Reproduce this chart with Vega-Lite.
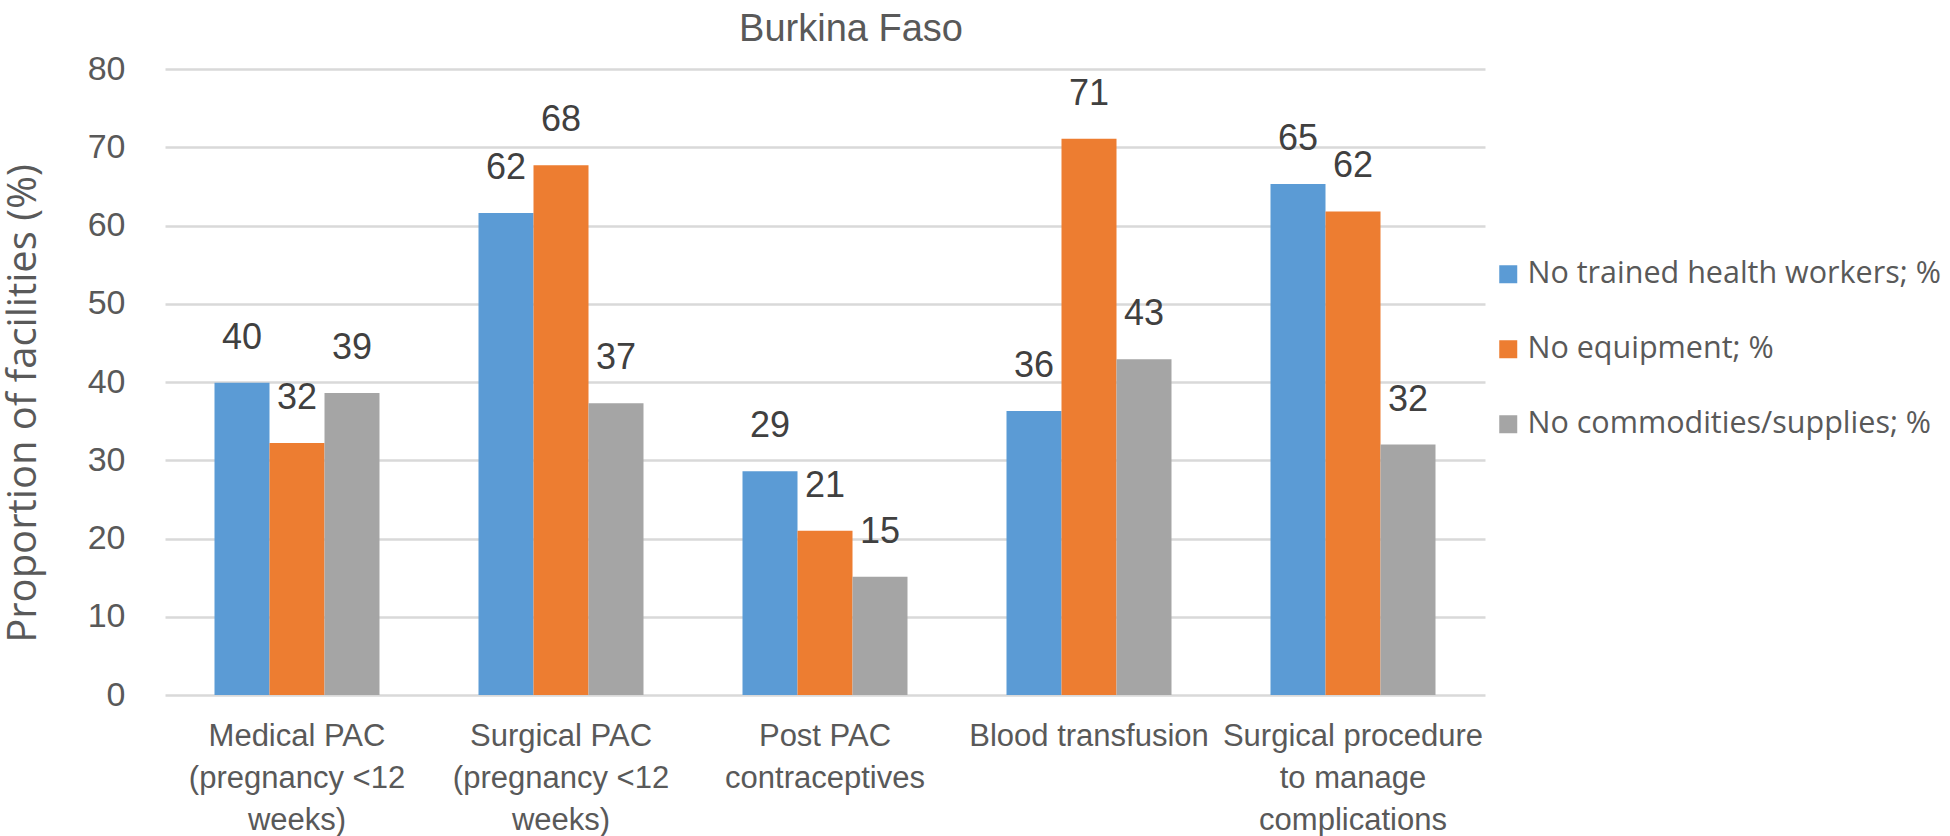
{
  "$schema": "https://vega.github.io/schema/vega-lite/v6.json",
  "autosize": {"type": "none"},
  "width": 1320,
  "height": 626,
  "padding": {"left": 165, "top": 69, "right": 465, "bottom": 141},
  "background": "white",
  "config": {"view": {"stroke": null}},
  "title": {"text": "Burkina Faso", "anchor": "middle", "dx": 26, "dy": 27, "fontSize": 38, "font": "Liberation Sans", "fontWeight": "normal", "color": "#595959", "baseline": "alphabetic", "offset": 0},
  "data": {"values": [
    {"service": "Medical PAC (pregnancy <12 weeks)", "barrier": "No trained health workers; %", "pct": 39.9},
    {"service": "Medical PAC (pregnancy <12 weeks)", "barrier": "No equipment; %", "pct": 32.2},
    {"service": "Medical PAC (pregnancy <12 weeks)", "barrier": "No commodities/supplies; %", "pct": 38.6},
    {"service": "Surgical PAC (pregnancy <12 weeks)", "barrier": "No trained health workers; %", "pct": 61.6},
    {"service": "Surgical PAC (pregnancy <12 weeks)", "barrier": "No equipment; %", "pct": 67.7},
    {"service": "Surgical PAC (pregnancy <12 weeks)", "barrier": "No commodities/supplies; %", "pct": 37.3},
    {"service": "Post PAC contraceptives", "barrier": "No trained health workers; %", "pct": 28.6},
    {"service": "Post PAC contraceptives", "barrier": "No equipment; %", "pct": 21.0},
    {"service": "Post PAC contraceptives", "barrier": "No commodities/supplies; %", "pct": 15.1},
    {"service": "Blood transfusion", "barrier": "No trained health workers; %", "pct": 36.3},
    {"service": "Blood transfusion", "barrier": "No equipment; %", "pct": 71.1},
    {"service": "Blood transfusion", "barrier": "No commodities/supplies; %", "pct": 42.9},
    {"service": "Surgical procedure to manage complications", "barrier": "No trained health workers; %", "pct": 65.3},
    {"service": "Surgical procedure to manage complications", "barrier": "No equipment; %", "pct": 61.8},
    {"service": "Surgical procedure to manage complications", "barrier": "No commodities/supplies; %", "pct": 32.0}
  ]},
  "encoding": {
    "x": {
      "field": "service", "type": "nominal", "sort": null,
      "scale": {"paddingInner": 0.375, "paddingOuter": 0.1875},
      "axis": {
        "title": null, "domain": false, "ticks": false, "labelAngle": 0,
        "labelFont": "Liberation Sans", "labelFontSize": 31, "labelColor": "#595959",
        "labelPadding": 26, "labelLineHeight": 42, "labelLimit": 0,
        "labelExpr": "datum.value == 'Medical PAC (pregnancy <12 weeks)' ? ['Medical PAC', '(pregnancy <12', 'weeks)'] : datum.value == 'Surgical PAC (pregnancy <12 weeks)' ? ['Surgical PAC', '(pregnancy <12', 'weeks)'] : datum.value == 'Post PAC contraceptives' ? ['Post PAC', 'contraceptives'] : datum.value == 'Surgical procedure to manage complications' ? ['Surgical procedure', 'to manage', 'complications'] : datum.value"
      }
    },
    "xOffset": {
      "field": "barrier", "type": "nominal",
      "sort": ["No trained health workers; %", "No equipment; %", "No commodities/supplies; %"],
      "scale": {"paddingInner": 0, "paddingOuter": 0}
    },
    "y": {
      "field": "pct", "type": "quantitative",
      "scale": {"domain": [0, 80], "nice": false},
      "axis": {
        "values": [0, 10, 20, 30, 40, 50, 60, 70, 80],
        "title": "Proportion of facilities (%)",
        "titleFont": "Open Sans", "titleFontSize": 40, "titleFontWeight": "normal", "titleColor": "#595959",
        "titleAngle": -90, "titleX": -142, "titleY": 334, "titleAlign": "center", "titleBaseline": "middle",
        "domain": false, "ticks": false,
        "labelFont": "Liberation Sans", "labelFontSize": 34, "labelColor": "#595959", "labelPadding": 40,
        "gridColor": "#D9D9D9", "gridWidth": 2.5
      }
    }
  },
  "layer": [
    {
      "mark": {"type": "bar"},
      "encoding": {
        "color": {
          "field": "barrier", "type": "nominal",
          "scale": {"domain": ["No trained health workers; %", "No equipment; %", "No commodities/supplies; %"], "range": ["#5B9BD5", "#ED7D31", "#A5A5A5"]},
          "legend": {
            "title": null, "orient": "none", "legendX": 1328, "legendY": 190,
            "symbolType": "square", "symbolSize": 324, "symbolStrokeWidth": 0,
            "labelFont": "Open Sans", "labelFontSize": 30.5, "labelColor": "#595959",
            "labelOffset": 4, "rowPadding": 44, "labelLimit": 0
          }
        }
      }
    },
    {
      "mark": {"type": "text", "baseline": "middle", "dy": -45, "font": "Liberation Sans", "fontSize": 36, "color": "#404040"},
      "encoding": {
        "text": {"field": "pct", "type": "quantitative", "format": ".0f"}
      }
    }
  ]
}
